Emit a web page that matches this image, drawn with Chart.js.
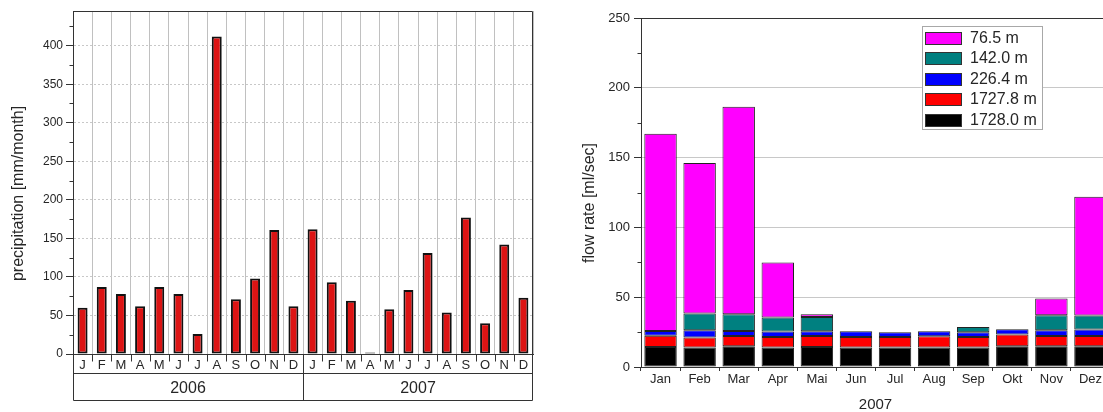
<!DOCTYPE html>
<html>
<head>
<meta charset="utf-8">
<script src="https://cdn.jsdelivr.net/npm/chart.js@4.4.1/dist/chart.umd.min.js"></script>
<style>
  html, body { margin: 0; padding: 0; background: #fff; overflow: hidden; width: 1103px; height: 412px; }
  #wrapPrecip { position: absolute; left: 0; top: 0; width: 545px; height: 412px; }
  #wrapFlow { position: absolute; left: 545px; top: 0; width: 580px; height: 412px; }
</style>
</head>
<body>
<div id="wrapPrecip"><canvas id="precip" width="545" height="412"></canvas></div>
<div id="wrapFlow"><canvas id="flow" width="580" height="412"></canvas></div>
<script>
// ---- data ----
const monthLetters = ['J', 'F', 'M', 'A', 'M', 'J', 'J', 'A', 'S', 'O', 'N', 'D'];
const years = ['2006', '2007'];
const precip2006 = [60, 87, 78, 62, 87, 78, 26, 412, 71, 98, 161, 62];
const precip2007 = [162, 93, 69, 2, 58, 83, 131, 54, 177, 40, 142, 73];

const flowMonths = ['Jan', 'Feb', 'Mar', 'Apr', 'Mai', 'Jun', 'Jul', 'Aug', 'Sep', 'Okt', 'Nov', 'Dez'];
const flowYear = '2007';
const depthLabels = ['1728.0 m', '1727.8 m', '226.4 m', '142.0 m', '76.5 m'];
const flow1728_0 = [14.3, 13.9, 14.8, 13.9, 14.3, 13.9, 13.9, 13.9, 13.9, 14.8, 14.8, 14.8];
const flow1727_8 = [8.0, 7.2, 7.4, 7.6, 7.9, 7.6, 7.6, 8.1, 7.6, 8.4, 7.4, 7.4];
const flow226_4 = [3.4, 5.2, 3.6, 3.9, 3.4, 4.1, 3.4, 3.6, 3.4, 3.8, 4.1, 4.6];
const flow142_0 = [0, 12.0, 12.0, 10.0, 10.3, 0, 0, 0, 3.8, 0, 10.8, 10.1];
const flow76_5 = [141.3, 107.8, 148.7, 39.5, 1.9, 0, 0, 0, 0, 0, 12.0, 85.1];

// ---- styling ----
const FONT = '"Liberation Sans", Arial, Helvetica, sans-serif';
const INK = '#262626';
const AXIS = '#333333';
const depthColors = ['#000000', '#ff0000', '#0000ff', '#008080', '#ff00ff'];

Chart.defaults.font.family = FONT;
Chart.defaults.color = INK;

// rotated y-axis title, placed beside the plot area
const sideTitle = {
  id: 'sideTitle',
  afterDraw(chart, args, o) {
    const { ctx, chartArea: a } = chart;
    ctx.save();
    ctx.translate(o.x, (a.top + a.bottom) / 2 + o.dy);
    ctx.rotate(-Math.PI / 2);
    ctx.font = o.size + 'px ' + FONT;
    ctx.fillStyle = INK;
    ctx.textAlign = 'center';
    ctx.textBaseline = 'middle';
    ctx.fillText(o.text, 0, 0);
    ctx.restore();
  }
};

// short minor ticks on the value axis
function drawMinorTicks(ctx, y, left, len) {
  ctx.beginPath();
  y.ticks.forEach(t => {
    if (t.value % 50 !== 0) {
      const py = Math.round(y.getPixelForValue(t.value)) + 0.5;
      ctx.moveTo(left - len, py);
      ctx.lineTo(left, py);
    }
  });
  ctx.stroke();
}

// frame around the precipitation plot plus the month / year boxes underneath
const precipFrame = {
  id: 'precipFrame',
  afterDraw(chart) {
    const { ctx, chartArea: a, scales: { x, x2, y } } = chart;
    const L = Math.round(a.left) + 0.5, R = Math.round(a.right) - 0.5;
    const T = Math.round(a.top) + 0.5, B = Math.round(a.bottom) + 0.5;
    const rowM = Math.round(x.bottom) + 0.5, rowY = Math.round(x2.bottom) - 0.5;
    ctx.save();
    ctx.strokeStyle = AXIS;
    ctx.lineWidth = 1;
    ctx.beginPath();
    ctx.moveTo(L, T); ctx.lineTo(R, T); ctx.lineTo(R, rowY);
    ctx.moveTo(L, T); ctx.lineTo(L, rowY); ctx.lineTo(R, rowY);
    ctx.moveTo(L, B); ctx.lineTo(R, B);
    ctx.moveTo(L, rowM); ctx.lineTo(R, rowM);
    const n = x.getLabels().length;
    for (let i = 1; i < n; i++) {
      const px = Math.round(x.getPixelForValue(i - 0.5)) + 0.5;
      ctx.moveTo(px, B);
      ctx.lineTo(px, i === monthLetters.length ? rowY : B + 7);
    }
    ctx.stroke();
    drawMinorTicks(ctx, y, L, 4);
    ctx.restore();
  }
};

// top line and minor ticks of the flow plot
const flowFrame = {
  id: 'flowFrame',
  afterDraw(chart) {
    const { ctx, chartArea: a, scales: { y } } = chart;
    const L = Math.round(a.left) + 0.5;
    ctx.save();
    ctx.strokeStyle = AXIS;
    ctx.lineWidth = 1;
    ctx.beginPath();
    ctx.moveTo(L, Math.round(a.top) + 0.5);
    ctx.lineTo(a.right, Math.round(a.top) + 0.5);
    ctx.stroke();
    drawMinorTicks(ctx, y, L, 4);
    ctx.restore();
  }
};

// boxed legend inside the flow plot, top series first
const depthLegend = {
  id: 'depthLegend',
  afterDraw(chart, args, o) {
    const { ctx, chartArea: a } = chart;
    const bx = Math.round(a.left + o.dx), by = Math.round(a.top + o.dy);
    ctx.save();
    ctx.fillStyle = '#fff';
    ctx.fillRect(bx, by, o.w, o.h);
    ctx.strokeStyle = '#a8a8a8';
    ctx.lineWidth = 1;
    ctx.strokeRect(bx + 0.5, by + 0.5, o.w, o.h);
    ctx.font = o.size + 'px ' + FONT;
    ctx.textBaseline = 'middle';
    chart.data.datasets.slice().reverse().forEach((d, i) => {
      const sy = Math.round(by + 6 + i * o.row);
      ctx.fillStyle = d.backgroundColor;
      ctx.fillRect(bx + 3, sy, 37, 13);
      ctx.strokeStyle = '#333';
      ctx.strokeRect(bx + 3.5, sy + 0.5, 36, 12);
      ctx.fillStyle = INK;
      ctx.fillText(d.label, bx + 48, sy + 7);
    });
    ctx.restore();
  }
};

// ---- precipitation chart ----
new Chart(document.getElementById('precip'), {
  type: 'bar',
  data: {
    labels: monthLetters.concat(monthLetters),
    datasets: [{
      label: 'precipitation',
      data: precip2006.concat(precip2007),
      xAxisID: 'x',
      backgroundColor: '#dc1414',
      borderColor: '#111',
      borderWidth: 2,
      borderSkipped: false,
      barPercentage: 0.52,
      categoryPercentage: 1
    }]
  },
  options: {
    responsive: false,
    animation: false,
    layout: { padding: { top: 11, right: 12, bottom: 11, left: 0 } },
    plugins: {
      legend: { display: false },
      tooltip: { enabled: false },
      sideTitle: { text: 'precipitation [mm/month]', x: 18.5, dy: 11, size: 16 }
    },
    scales: {
      x: {
        type: 'category',
        offset: true,
        weight: 0,
        grid: { offset: true, color: '#c0c0c0', drawTicks: false },
        border: { display: true, color: AXIS },
        ticks: { autoSkip: false, maxRotation: 0, padding: 4, font: { size: 13 } },
        afterFit(s) { s.height = 19; }
      },
      x2: {
        type: 'category',
        labels: years,
        position: 'bottom',
        offset: true,
        weight: 1,
        grid: { display: false, drawTicks: false },
        border: { display: false },
        ticks: { padding: 6, font: { size: 16 } },
        afterFit(s) { s.height = 28; }
      },
      y: {
        min: 0,
        max: 445,
        ticks: {
          stepSize: 25,
          includeBounds: false,
          padding: 3,
          font: { size: 12 },
          callback: v => (v % 50 === 0 ? v : '')
        },
        grid: {
          color: c => (c.tick && c.tick.value % 50 === 0 && c.tick.value > 0 ? '#c8c8c8' : 'rgba(0,0,0,0)'),
          tickColor: c => (c.tick && c.tick.value % 50 === 0 ? AXIS : 'rgba(0,0,0,0)'),
          tickLength: 7
        },
        border: { color: AXIS, dash: [2, 2] },
        afterFit(s) { s.width = 73; }
      }
    }
  },
  plugins: [precipFrame, sideTitle]
});

// ---- flow rate chart ----
const flowSeries = [flow1728_0, flow1727_8, flow226_4, flow142_0, flow76_5];
new Chart(document.getElementById('flow'), {
  type: 'bar',
  data: {
    labels: flowMonths,
    datasets: flowSeries.map((values, i) => ({
      label: depthLabels[i],
      data: values,
      backgroundColor: depthColors[i],
      borderColor: '#222',
      borderWidth: 1,
      borderSkipped: false,
      barPercentage: 0.83,
      categoryPercentage: 1
    }))
  },
  options: {
    responsive: false,
    animation: false,
    layout: { padding: { top: 18, right: 15, bottom: 0, left: 0 } },
    plugins: {
      legend: { display: false },
      tooltip: { enabled: false },
      sideTitle: { text: 'flow rate [ml/sec]', x: 45, dy: 10.5, size: 16 },
      depthLegend: { dx: 281, dy: 8, w: 120, h: 103, row: 20.4, size: 16 }
    },
    scales: {
      x: {
        stacked: true,
        offset: true,
        grid: { offset: true, drawOnChartArea: false, tickLength: 4, tickColor: AXIS },
        border: { color: AXIS },
        ticks: { padding: 1, font: { size: 13 } },
        title: { display: true, text: flowYear, font: { size: 15 }, color: INK, padding: { top: 0, bottom: -2 } },
        afterFit(s) { s.height = 45; }
      },
      y: {
        stacked: true,
        min: 0,
        max: 250,
        ticks: {
          stepSize: 25,
          padding: 4,
          font: { size: 13 },
          callback: v => (v % 50 === 0 ? v : '')
        },
        grid: {
          color: c => (c.tick && c.tick.value % 50 === 0 && c.tick.value > 0 && c.tick.value < 250 ? '#c8c8c8' : 'rgba(0,0,0,0)'),
          tickColor: c => (c.tick && c.tick.value % 50 === 0 ? AXIS : 'rgba(0,0,0,0)'),
          tickLength: 7
        },
        border: { color: AXIS },
        afterFit(s) { s.width = 96; }
      }
    }
  },
  plugins: [flowFrame, depthLegend, sideTitle]
});
</script>
</body>
</html>
